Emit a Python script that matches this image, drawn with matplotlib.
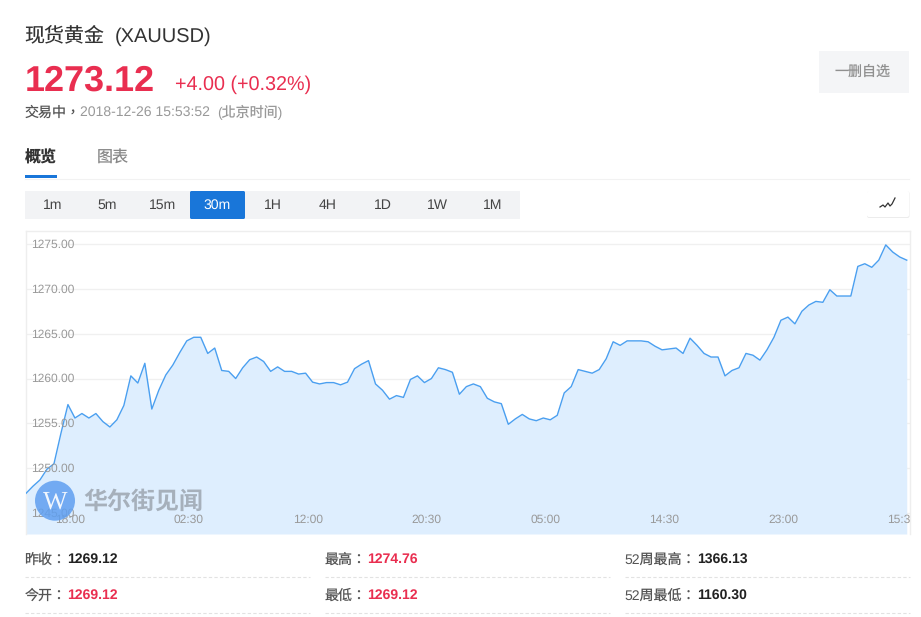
import matplotlib
matplotlib.use('Agg')
import matplotlib.pyplot as plt
from matplotlib.patches import Rectangle, Circle, FancyBboxPatch

plt.rcParams['font.family'] = ['Liberation Sans', 'Noto Sans CJK TC', 'DejaVu Sans']
plt.rcParams['text.hinting'] = 'no_hinting'

# 30m 行情数据
prices = [1247.2, 1248.0, 1248.7, 1249.9, 1250.5, 1253.9, 1257.1, 1255.6, 1256.1, 1255.6,
          1256.1, 1255.2, 1254.6, 1255.4, 1257.0, 1260.3, 1259.5, 1261.7, 1256.6, 1258.7,
          1260.4, 1261.5, 1262.9, 1264.2, 1264.6, 1264.6, 1262.8, 1263.4, 1260.9, 1260.8,
          1260.0, 1261.2, 1262.1, 1262.4, 1261.9, 1260.8, 1261.3, 1260.8, 1260.8, 1260.5,
          1260.6, 1259.6, 1259.4, 1259.55, 1259.55, 1259.3, 1259.6, 1261.1, 1261.6, 1262.0,
          1259.4, 1258.7, 1257.7, 1258.1, 1257.9, 1259.9, 1260.3, 1259.55, 1260.0, 1261.2,
          1261.0, 1260.7, 1258.25, 1259.1, 1259.4, 1259.1, 1257.8, 1257.4, 1257.2, 1254.9,
          1255.5, 1256.0, 1255.5, 1255.3, 1255.6, 1255.4, 1255.9, 1258.4, 1259.1, 1261.0,
          1260.8, 1260.6, 1261.0, 1262.2, 1264.1, 1263.7, 1264.2, 1264.2, 1264.2, 1264.1,
          1263.6, 1263.2, 1263.3, 1263.4, 1262.8, 1264.5, 1263.7, 1262.8, 1262.4, 1262.4,
          1260.3, 1260.9, 1261.2, 1262.8, 1262.6, 1262.05, 1263.2, 1264.6, 1266.5, 1266.85,
          1266.1, 1267.5, 1268.2, 1268.6, 1268.5, 1269.9, 1269.2, 1269.2, 1269.2, 1272.5,
          1272.8, 1272.4, 1273.2, 1274.9, 1274.1, 1273.55, 1273.2]
y_ticks = [1275, 1270, 1265, 1260, 1255, 1250, 1245]
x_tick_index = [6, 23, 40, 57, 74, 91, 108, 125]
x_tick_labels = ['18:00', '02:30', '12:00', '20:30', '05:00', '14:30', '23:00', '15:30']
periods = ['1m', '5m', '15m', '30m', '1H', '4H', '1D', '1W', '1M']
active_period = '30m'
stat_rows = [
    [('昨收：', '1269.12', 'k'), ('最高：', '1274.76', 'r'), ('52周最高：', '1366.13', 'k')],
    [('今开：', '1269.12', 'r'), ('最低：', '1269.12', 'r'), ('52周最低：', '1160.30', 'k')],
]

RED = '#e92e50'
GREY = '#999999'
W, H = 921, 617


def fs(px):
    return px * 0.72


fig = plt.figure(figsize=(W / 100, H / 100), dpi=100, facecolor='white')

# 页面元素用像素坐标
page = fig.add_axes([0, 0, 1, 1], zorder=1)
page.set_xlim(0, W)
page.set_ylim(H, 0)
page.axis('off')

page.text(24.5, 36, '现货黄金', fontsize=fs(20), color='#333333', va='center')
page.text(115, 36.5, '(XAUUSD)', fontsize=fs(20), color='#333333', va='center')
page.text(25, 81, '1273.12', fontsize=fs(36), color=RED, weight='bold', va='center')
page.text(175, 85, '+4.00 (+0.32%)', fontsize=fs(19.8), color=RED, va='center')
page.text(24.5, 112.5, '交易中，', fontsize=fs(14), color='#555555', va='center')
page.text(80, 112.5, '2018-12-26 15:53:52', fontsize=fs(14), color=GREY, va='center')
page.text(217, 112.5, '(北京时间)', fontsize=fs(14), color=GREY, va='center')

page.add_patch(Rectangle((819, 51), 90, 42, fc='#f4f5f7', ec='none'))
page.text(863, 72.5, '一删自选', fontsize=fs(14), color='#909090', ha='center', va='center')

page.text(24.5, 158.5, '概览', fontsize=fs(16), color='#333333', weight='bold', va='center')
page.text(96.5, 158.5, '图表', fontsize=fs(16), color='#888888', va='center')
page.plot([25, 909], [178.5, 178.5], color='#f2f2f2', lw=0.8)
page.add_patch(Rectangle((25, 175), 32, 3, fc='#1976d9', ec='none', zorder=3))

# 周期按钮
for i, p in enumerate(periods):
    left = 25 + i * 55
    cx = left + 27.5
    if p == active_period:
        page.add_patch(FancyBboxPatch((left, 191), 55, 28, boxstyle='round,pad=0,rounding_size=1.5',
                                      fc='#1976d9', ec='none', zorder=3))
        page.text(cx, 205.5, p, fontsize=fs(14), color='white', ha='center', va='center', zorder=4)
    else:
        page.add_patch(Rectangle((left, 191), 55, 28, fc='#f2f3f5', ec='none'))
        page.text(cx, 205.5, p, fontsize=fs(14), color='#444444', ha='center', va='center')

page.add_patch(FancyBboxPatch((867, 191.5), 42.5, 26.5, boxstyle='round,pad=0,rounding_size=2',
                              fc='#ececec', ec='none'))
page.add_patch(FancyBboxPatch((867, 191), 42, 26, boxstyle='round,pad=0,rounding_size=2',
                              fc='white', ec='none'))
page.plot([880, 883, 885, 888, 890, 892, 895], [207, 205, 207, 203, 206, 204, 198], color='#333333', lw=0.9)

# 底部统计
for r, row in enumerate(stat_rows):
    for c, (label, value, col) in enumerate(row):
        left = 25 + c * 300
        y = 559 + r * 36
        page.text(left - 0.5, y + 1, label, fontsize=fs(14), color='#555555', va='center')
        off = 42 if c < 2 else 72.5
        page.text(left + off, y + 0.5, value, fontsize=fs(14), weight='bold', va='center',
                  color=RED if col == 'r' else '#222222')
        page.plot([left, left + 285], [y + 17.5, y + 17.5], color='#e2e2e2', lw=0.8, ls=(0, (3, 2)))

# 主图
ax = fig.add_axes([26 / W, 1 - 534 / H, 884 / W, 303 / H], zorder=2)
ax.patch.set_alpha(1)
x = list(range(len(prices)))
ax.set_xlim(0, 884 / 6.99)
ax.set_ylim(1275 - (534 - 244) / 8.97, 1275 + (244 - 231) / 8.97)
for t in y_ticks:
    ax.axhline(t, color='#f0f0f0', lw=1, zorder=1)
ax.fill_between(x, prices, ax.get_ylim()[0], color='#deeefe', lw=0, zorder=2)
ax.plot(x, prices, color='#4a9ff0', lw=1, zorder=3)
ax.set_xticks([])
ax.set_yticks([])
for s in ax.spines.values():
    s.set_color('#eeeeee')
    s.set_linewidth(1)
ax.spines['bottom'].set_visible(False)

for t in y_ticks:
    ax.annotate(f'{t:.2f}', (0, t), xycoords=('axes fraction', 'data'), xytext=(4.0, -0.5),
                textcoords='offset points', fontsize=fs(12), color=GREY, va='center', zorder=5)
for i, lab in zip(x_tick_index, x_tick_labels):
    ax.annotate(lab, (i, 0), xycoords=('data', 'axes fraction'), xytext=(1.5, 10.0),
                textcoords='offset points', fontsize=fs(12), color=GREY, ha='center', va='center',
                zorder=5, annotation_clip=False, clip_on=True)

# 水印
mark = fig.add_axes([0, 0, 1, 1], zorder=3)
mark.set_xlim(0, W)
mark.set_ylim(H, 0)
mark.axis('off')
mark.patch.set_alpha(0)
mark.add_patch(Circle((55, 500.7), 20, fc='#5f9ff0', ec='none', alpha=0.85))
mark.text(55, 502, 'W', fontsize=fs(26), color='white', family='Liberation Serif', ha='center', va='center', alpha=0.9)
mark.text(83, 502, '华尔街见闻', fontsize=fs(24), color='#a3adb8', weight='bold', va='center', alpha=0.95)

fig.savefig('out.png', dpi=100)
